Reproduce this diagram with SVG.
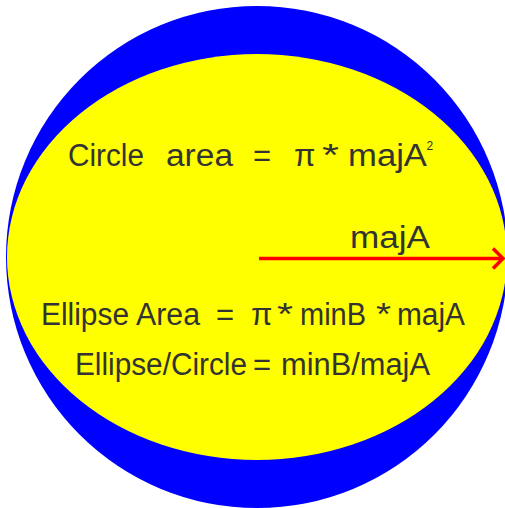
<svg xmlns="http://www.w3.org/2000/svg" width="505" height="508" viewBox="0 0 505 508">
<defs>
<style>
.t{font-family:"Liberation Sans",Arial,sans-serif;font-size:31px;fill:#333333;}
.sup{font-family:"Liberation Sans",Arial,sans-serif;font-size:12px;fill:#333333;}
</style>
</defs>
<rect width="505" height="508" fill="#ffffff"/>
<g id="circle"><circle cx="257" cy="257" r="251" fill="#0000ff"/></g>
<g id="ellipse"><ellipse cx="257" cy="257" rx="250" ry="203" fill="#ffff00"/></g>
<g id="connectors">
<line x1="259" y1="258.5" x2="503" y2="258.5" stroke="#ff0000" stroke-width="3.5"/>
<polyline points="493,248.5 503,258.5 493,268.5" fill="none" stroke="#ff0000" stroke-width="3.5"/>
</g>
<g id="label-circle-area">
<text class="t" y="166"><tspan x="68" textLength="76" lengthAdjust="spacingAndGlyphs">Circle</tspan><tspan x="166" textLength="67" lengthAdjust="spacingAndGlyphs">area</tspan><tspan x="253">=</tspan><tspan x="294">π</tspan><tspan x="322" textLength="17" lengthAdjust="spacingAndGlyphs">*</tspan><tspan x="348" textLength="79" lengthAdjust="spacingAndGlyphs">majA</tspan></text>
<text class="sup" x="426.5" y="150">2</text>
</g>
<g id="label-majA"><text class="t" x="350" y="248" textLength="80" lengthAdjust="spacingAndGlyphs">majA</text></g>
<g id="label-ellipse-area">
<text class="t" y="325"><tspan x="41" textLength="88" lengthAdjust="spacingAndGlyphs">Ellipse</tspan><tspan x="136" textLength="64" lengthAdjust="spacingAndGlyphs">Area</tspan><tspan x="216">=</tspan><tspan x="251">π</tspan><tspan x="277" textLength="16" lengthAdjust="spacingAndGlyphs">*</tspan><tspan x="300" textLength="66" lengthAdjust="spacingAndGlyphs">minB</tspan><tspan x="376" textLength="15" lengthAdjust="spacingAndGlyphs">*</tspan><tspan x="397" textLength="68" lengthAdjust="spacingAndGlyphs">majA</tspan></text>
</g>
<g id="label-ratio">
<text class="t" y="375"><tspan x="75" textLength="172" lengthAdjust="spacingAndGlyphs">Ellipse/Circle</tspan><tspan x="253">=</tspan><tspan x="281" textLength="149" lengthAdjust="spacingAndGlyphs">minB/majA</tspan></text>
</g>
</svg>
